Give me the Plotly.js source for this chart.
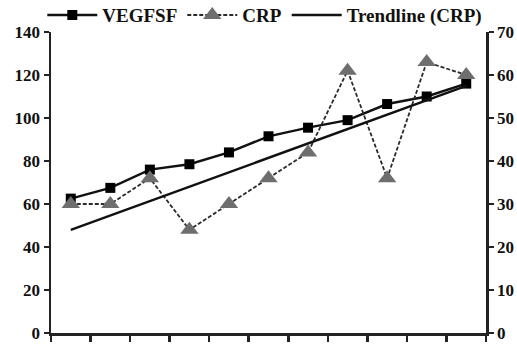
<!DOCTYPE html>
<html><head><meta charset="utf-8">
<script src="https://cdn.plot.ly/plotly-3.0.1.min.js"></script>
<style>html,body{margin:0;padding:0;background:#fff}#c{width:517px;height:345px}</style>
</head><body><div id="c"></div>
<script>
const categories = ['1','2','3','4','5','6','7','8','9','10','11'];
const vegfsf = [62.5, 67.5, 76, 78.5, 84, 91.5, 95.5, 99, 106.5, 110, 116];
const crp = [30, 30, 36, 24, 30, 36, 42, 61, 36, 63, 60];
const leftTicks = [0, 20, 40, 60, 80, 100, 120, 140];
const rightTicks = [0, 10, 20, 30, 40, 50, 60, 70];

// least-squares trendline of CRP
const n = crp.length;
const xs = crp.map((_, i) => i + 1);
const mx = xs.reduce((a, b) => a + b, 0) / n;
const my = crp.reduce((a, b) => a + b, 0) / n;
let sxy = 0, sxx = 0;
for (let i = 0; i < n; i++) { sxy += (xs[i] - mx) * (crp[i] - my); sxx += (xs[i] - mx) ** 2; }
const slope = sxy / sxx, icpt = my - slope * mx;
const trend = xs.map(x => icpt + slope * x);

const font = {family: 'Liberation Serif, Times New Roman, serif', size: 17, color: '#111'};
const lfont = {family: 'Liberation Serif, Times New Roman, serif', size: 19, color: '#111'};

const traces = [
  {x: categories, y: vegfsf, name: '<b>VEGFSF</b>', type: 'scatter', mode: 'lines+markers',
   line: {color: '#111', width: 2.4}, marker: {symbol: 'square', size: 10, color: '#000'}, yaxis: 'y'},
  {x: categories, y: crp, name: '<b>CRP</b>', type: 'scatter', mode: 'lines+markers',
   line: {color: '#2a2a2a', width: 1.8, dash: '4px,2px'}, marker: {symbol: 'triangle-up', size: 16, color: '#6e6e6e'}, yaxis: 'y2'},
  {x: categories, y: trend, name: '<b>Trendline (CRP)</b>', type: 'scatter', mode: 'lines',
   line: {color: '#111', width: 2.4}, yaxis: 'y2'}
];

const layout = {
  width: 517, height: 345,
  margin: {l: 51, r: 31, t: 32, b: 12, autoexpand: false},
  paper_bgcolor: '#fff', plot_bgcolor: '#fff',
  font: font,
  showlegend: true,
  legend: {orientation: 'h', x: -0.02, xanchor: 'left', y: 1.056, yanchor: 'middle', font: lfont,
           bgcolor: 'rgba(0,0,0,0)', itemwidth: 50, tracegroupgap: 0},
  xaxis: {type: 'category', range: [-0.5, 10.5], tickson: 'boundaries', ticks: 'outside', ticklen: 6,
          tickwidth: 2.5, tickcolor: '#222', showticklabels: false, showgrid: false, zeroline: false,
          showline: true, linecolor: '#222', linewidth: 2.5},
  yaxis: {range: [0, 140], tickvals: leftTicks, ticktext: leftTicks.map(v => '<b>' + v + '</b>'),
          ticks: 'outside', ticklen: 5, tickwidth: 2.5, tickcolor: '#222', showgrid: false, zeroline: false,
          showline: true, linecolor: '#222', linewidth: 2.5, tickfont: font},
  yaxis2: {range: [0, 70], overlaying: 'y', side: 'right', tickvals: rightTicks,
           ticktext: rightTicks.map(v => '<b>' + v + '</b>'),
           ticks: 'outside', ticklen: 5, tickwidth: 2.5, tickcolor: '#222', showgrid: false, zeroline: false,
           showline: true, linecolor: '#222', linewidth: 2.5, tickfont: font}
};
Plotly.newPlot('c', traces, layout, {displayModeBar: false, staticPlot: true});
</script></body></html>
